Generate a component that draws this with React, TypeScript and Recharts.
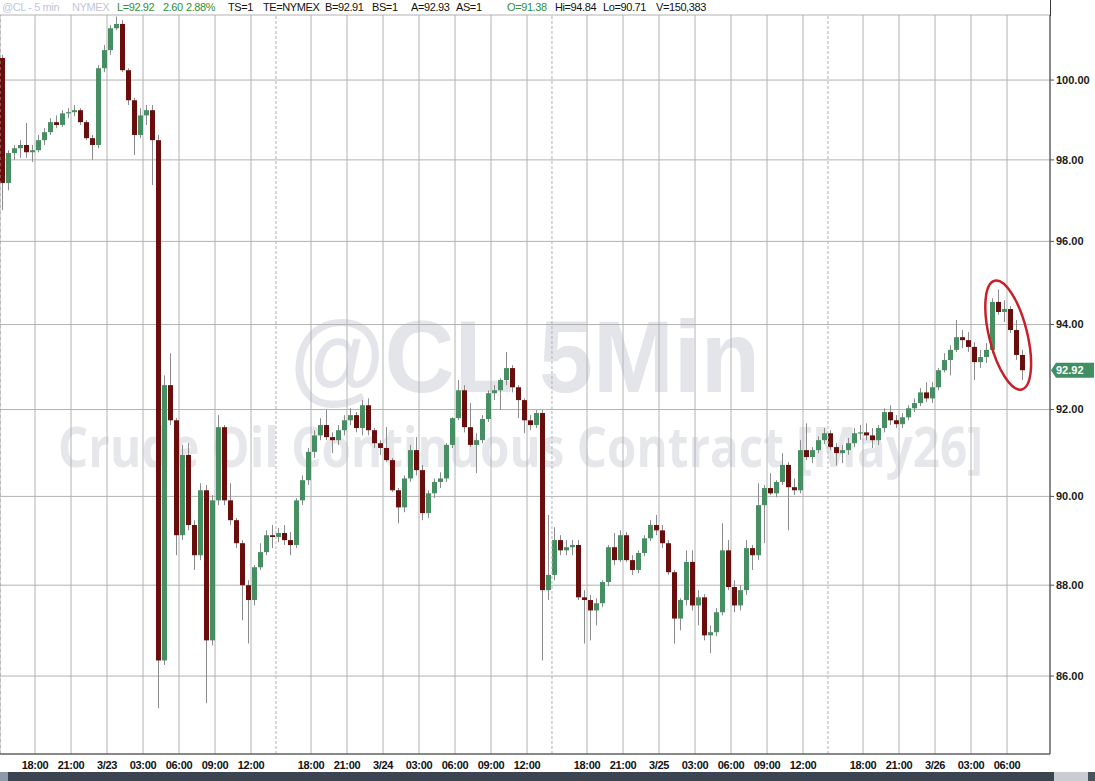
import React from "react";
import {
  ComposedChart,
  Bar,
  XAxis,
  YAxis,
  CartesianGrid,
  ReferenceLine,
  ReferenceDot,
} from "recharts";

// 30-minute candles, first bar starts 3 hours before 18:00 on 3/22 (hours axis, trading time only)
const FIRST_BAR_HOUR = -2.75;
const BAR_HOURS = 0.5;

const opens = [
  100.56, 97.43, 98.17, 98.29, 98.37, 98.19,
  98.24, 98.49, 98.69, 98.94, 98.87, 99.16, 99.19, 99.24, 98.94, 98.54,
  98.37, 100.30, 100.76, 101.32, 101.43, 100.25, 99.49, 98.62, 99.11, 99.24,
  98.49, 86.34, 92.57, 91.75, 89.12, 90.95, 89.35, 88.67, 90.14, 86.78,
  89.91, 91.59, 89.91, 89.46, 88.94, 88.00, 87.67, 88.40, 88.74, 89.12,
  89.08, 89.17, 89.01, 88.90, 89.91, 90.37, 91.02, 91.40, 91.64, 91.36,
  91.29, 91.52, 91.75, 91.87, 91.57, 92.10, 91.52, 91.22, 91.11, 90.83,
  90.14, 89.75, 90.41, 91.06, 90.60, 89.62, 90.07, 90.33, 90.41, 91.18,
  91.80, 92.45, 91.59, 91.18, 91.29, 91.78, 92.38, 92.45, 92.69, 92.97,
  92.52, 92.22, 91.75, 91.64, 91.92, 87.89, 88.23, 89.01, 88.78, 88.85,
  88.90, 87.73, 87.67, 87.44, 87.60, 88.07, 88.85, 88.56, 89.12, 88.56,
  88.34, 88.72, 89.05, 89.35, 89.23, 88.94, 88.29, 87.26, 87.67, 88.52,
  87.55, 87.73, 86.89, 86.96, 87.40, 88.78, 87.96, 87.55, 87.89, 88.83,
  88.67, 89.80, 90.19, 90.07, 90.33, 90.72, 90.21, 90.14, 91.06, 90.90,
  91.06, 91.29, 91.45, 91.13, 90.99, 91.06, 91.22, 91.45, 91.47, 91.40,
  91.29, 91.57, 91.94, 91.75, 91.66, 91.82, 92.03, 92.15, 92.40, 92.26,
  92.52, 92.92, 93.16, 93.40, 93.70, 93.63, 93.47, 93.11, 93.23, 93.40,
  94.54, 94.30, 94.37, 93.87, 93.28,
];

const highs = [
  100.64, 98.24, 98.37, 98.49, 98.92, 98.37,
  98.62, 98.79, 99.04, 99.11, 99.24, 99.29, 99.37, 99.29, 98.99, 98.62,
  100.38, 100.89, 101.40, 101.62, 101.53, 100.30, 99.55, 99.29, 99.37, 99.37,
  98.62, 92.80, 93.32, 91.80, 91.18, 91.22, 89.46, 90.30, 90.26, 90.03,
  91.87, 91.64, 90.30, 89.51, 89.01, 88.11, 88.45, 88.94, 89.23, 89.35,
  89.28, 89.35, 89.19, 89.96, 90.48, 91.11, 91.52, 91.80, 91.99, 91.47,
  91.64, 91.87, 92.03, 91.94, 92.22, 92.26, 91.57, 91.29, 91.59, 90.88,
  90.19, 90.48, 91.18, 91.36, 90.72, 90.14, 90.41, 90.55, 91.22, 91.82,
  92.69, 92.57, 92.15, 91.45, 91.87, 92.45, 92.57, 92.73, 93.35, 93.04,
  92.57, 92.26, 91.87, 91.99, 91.99, 89.58, 89.30, 89.12, 89.01, 89.01,
  89.01, 87.89, 87.78, 87.71, 88.11, 88.90, 89.17, 89.23, 89.19, 88.67,
  88.78, 89.12, 89.46, 89.58, 89.35, 89.01, 88.34, 87.71, 88.78, 88.78,
  87.89, 87.80, 87.11, 87.49, 89.39, 89.01, 88.11, 88.00, 89.01, 88.90,
  90.30, 90.26, 90.53, 90.37, 90.99, 90.79, 90.41, 91.29, 91.68, 91.13,
  91.38, 91.57, 91.52, 91.22, 91.18, 91.34, 91.57, 91.64, 91.68, 91.57,
  91.64, 92.03, 92.10, 91.87, 91.92, 92.10, 92.26, 92.50, 92.64, 92.64,
  92.97, 93.32, 93.51, 94.11, 93.87, 93.82, 93.58, 93.40, 93.56, 94.63,
  94.84, 94.58, 94.44, 94.11, 93.40,
];

const lows = [
  96.76, 97.25, 98.00, 98.05, 98.05, 97.95,
  98.19, 98.37, 98.62, 98.79, 98.82, 99.04, 99.09, 98.87, 98.49, 98.00,
  98.29, 100.20, 100.64, 101.27, 100.20, 99.37, 98.12, 98.54, 98.87, 97.38,
  85.30, 86.24, 91.64, 88.67, 89.01, 89.23, 88.34, 88.56, 85.41, 86.67,
  89.80, 89.80, 89.35, 88.83, 87.22, 86.71, 87.55, 88.34, 88.67, 88.83,
  88.96, 88.90, 88.67, 88.83, 89.80, 90.26, 90.88, 91.29, 91.29, 90.99,
  91.18, 91.40, 91.64, 91.47, 91.40, 91.40, 91.11, 90.95, 90.79, 90.10,
  89.39, 89.64, 90.33, 90.48, 89.46, 89.51, 89.96, 90.19, 90.33, 91.11,
  91.75, 91.47, 91.13, 90.53, 91.22, 91.71, 92.22, 91.99, 92.57, 92.40,
  91.80, 91.45, 91.52, 91.57, 86.34, 87.67, 88.11, 88.67, 88.67, 88.67,
  87.67, 86.71, 86.78, 87.11, 87.51, 87.98, 88.45, 88.52, 88.52, 88.23,
  88.27, 88.65, 88.99, 89.12, 88.83, 88.23, 86.71, 87.00, 87.55, 87.44,
  87.11, 86.78, 86.50, 86.87, 87.33, 87.89, 87.40, 87.44, 87.78, 88.34,
  88.56, 88.94, 90.03, 89.98, 90.26, 89.23, 90.03, 90.07, 90.83, 90.76,
  90.99, 91.20, 91.06, 90.71, 90.76, 90.95, 91.13, 91.29, 91.29, 91.11,
  91.18, 91.47, 91.64, 91.57, 91.57, 91.75, 91.94, 92.08, 92.17, 92.15,
  92.45, 92.87, 92.80, 93.35, 93.44, 93.35, 92.69, 92.97, 93.09, 93.32,
  94.23, 94.06, 93.80, 93.16, 92.69,
];

const closes = [
  97.43, 98.17, 98.29, 98.37, 98.19, 98.24,
  98.49, 98.69, 98.94, 98.87, 99.16, 99.19, 99.24, 98.94, 98.54, 98.37,
  100.30, 100.76, 101.32, 101.43, 100.25, 99.49, 98.62, 99.11, 99.24, 98.49,
  86.34, 92.57, 91.75, 89.12, 90.95, 89.35, 88.67, 90.14, 86.78, 89.91,
  91.59, 89.91, 89.46, 88.94, 88.00, 87.67, 88.40, 88.74, 89.12, 89.08,
  89.17, 89.01, 88.90, 89.91, 90.37, 91.02, 91.40, 91.64, 91.36, 91.29,
  91.52, 91.75, 91.87, 91.57, 92.10, 91.52, 91.22, 91.11, 90.83, 90.14,
  89.75, 90.41, 91.06, 90.60, 89.62, 90.07, 90.33, 90.41, 91.18, 91.80,
  92.45, 91.59, 91.18, 91.29, 91.78, 92.38, 92.45, 92.69, 92.97, 92.52,
  92.22, 91.75, 91.64, 91.92, 87.89, 88.23, 89.01, 88.78, 88.85, 88.90,
  87.73, 87.67, 87.44, 87.60, 88.07, 88.85, 88.56, 89.12, 88.56, 88.34,
  88.72, 89.05, 89.35, 89.23, 88.94, 88.29, 87.26, 87.67, 88.52, 87.55,
  87.73, 86.89, 86.96, 87.40, 88.78, 87.96, 87.55, 87.89, 88.83, 88.67,
  89.80, 90.19, 90.07, 90.33, 90.72, 90.21, 90.14, 91.06, 90.90, 91.06,
  91.29, 91.45, 91.13, 90.99, 91.06, 91.22, 91.45, 91.47, 91.40, 91.29,
  91.57, 91.94, 91.75, 91.66, 91.82, 92.03, 92.15, 92.40, 92.26, 92.52,
  92.92, 93.16, 93.40, 93.70, 93.63, 93.47, 93.11, 93.23, 93.40, 94.54,
  94.30, 94.37, 93.87, 93.28, 92.92,
];

const tickHours = [0, 3, 6, 9, 12, 15, 18, 23, 26, 29, 32, 35, 38, 41, 46, 49, 52, 55, 58, 61, 64, 69, 72, 75, 78, 81];
const tickLabels = [
  "18:00", "21:00", "3/23", "03:00", "06:00", "09:00", "12:00",
  "18:00", "21:00", "3/24", "03:00", "06:00", "09:00", "12:00",
  "18:00", "21:00", "3/25", "03:00", "06:00", "09:00", "12:00",
  "18:00", "21:00", "3/26", "03:00", "06:00",
];
const priceTicks = [86, 88, 90, 92, 94, 96, 98, 100];
const sessionBreaks = [20.08, 43.08, 66.08];
const chartStartHour = -2.9167;
const chartEndHour = 84.5833;
const priceMin = 84.32;
const priceMax = 101.66;
const lastPrice = 92.92;
const highlightCenter = { hour: 81.1, price: 93.75 };

const headerItems = [
  { text: "@CL - 5 min", x: 2, color: "#c3c6d8" },
  { text: "NYMEX", x: 72, color: "#c3c6d8" },
  { text: "L=92.92", x: 117, color: "#2f8f3a" },
  { text: "2.60", x: 163, color: "#2f8f3a" },
  { text: "2.88%", x: 186, color: "#2f8f3a" },
  { text: "TS=1", x: 228, color: "#111" },
  { text: "TE=NYMEX", x: 263, color: "#111" },
  { text: "B=92.91", x: 325, color: "#111" },
  { text: "BS=1", x: 372, color: "#111" },
  { text: "A=92.93", x: 411, color: "#111" },
  { text: "AS=1", x: 456, color: "#111" },
  { text: "O=91.38", x: 507, color: "#2f8f3a" },
  { text: "Hi=94.84", x: 555, color: "#111" },
  { text: "Lo=90.71", x: 603, color: "#111" },
  { text: "V=150,383", x: 656, color: "#111" },
];

const data = opens.map((o, i) => ({
  t: FIRST_BAR_HOUR + i * BAR_HOURS,
  open: o,
  high: highs[i],
  low: lows[i],
  close: closes[i],
  range: [lows[i], highs[i]],
}));

const UP = "#458f63";
const DOWN = "#6a0d0d";
const WICK = "#8c8c8c";
const SANS = "'Liberation Sans', Arial, sans-serif";

const Candle = (props: any) => {
  const { x, y, width, height } = props;
  const p = props.payload || props;
  if (x == null || y == null || !p) return null;
  const top = Math.min(y, y + height);
  const bot = Math.max(y, y + height);
  const lh = Math.log(p.high);
  const ll = Math.log(p.low);
  const toY = (v: number) => (lh === ll ? top : top + ((bot - top) * (lh - Math.log(v))) / (lh - ll));
  const cx = Math.round(x + width / 2) + 0.5;
  const up = p.close >= p.open;
  const yO = toY(p.open);
  const yC = toY(p.close);
  const bTop = Math.min(yO, yC);
  const bH = Math.max(1.2, Math.abs(yO - yC));
  return (
    <g>
      <line x1={cx} x2={cx} y1={top} y2={bot} stroke={WICK} strokeWidth={1} />
      <rect x={cx - 2.5} y={bTop} width={5} height={bH} fill={up ? UP : DOWN} />
    </g>
  );
};

const PriceTag = (props: any) => {
  const vb = props.viewBox || {};
  const x0 = (vb.x || 0) + (vb.width || 0);
  const y0 = vb.y || 0;
  return (
    <g>
      <polygon
        points={`${x0 + 1},${y0} ${x0 + 6},${y0 - 7.5} ${x0 + 44},${y0 - 7.5} ${x0 + 44},${y0 + 7.5} ${x0 + 6},${y0 + 7.5}`}
        fill="#3f8f62"
      />
      <text x={x0 + 6} y={y0 + 4} fill="#fff" fontSize={11} fontWeight="bold" fontFamily={SANS}>
        {lastPrice.toFixed(2)}
      </text>
    </g>
  );
};

const HighlightEllipse = (props: any) => {
  const { cx, cy } = props;
  if (cx == null || cy == null) return null;
  return (
    <ellipse
      cx={cx}
      cy={cy}
      rx={19}
      ry={56}
      transform={`rotate(-14 ${cx} ${cy})`}
      fill="none"
      stroke="#c8202a"
      strokeWidth={2.5}
    />
  );
};

export default function App() {
  return (
    <div style={{ position: "absolute", left: 0, top: 0, width: 1095, height: 781, background: "#fff", overflow: "hidden" }}>
      {/* watermark */}
      <svg width={1095} height={781} style={{ position: "absolute", left: 0, top: 0 }}>
        <text x={290} y={392} fontSize={102} fontWeight="bold" fill="#e4e5ea" fontFamily={SANS} textLength={470} lengthAdjust="spacingAndGlyphs">
          @CL 5Min
        </text>
        <text x={58} y={467} fontSize={56} fontWeight="bold" fill="#e6e7eb" fontFamily="'Open Sans', 'Liberation Sans', sans-serif" textLength={925} lengthAdjust="spacingAndGlyphs">
          Crude Oil Continuous Contract [May26]
        </text>
      </svg>
      <div style={{ position: "absolute", left: 0, top: 0 }}>
        <ComposedChart width={1095} height={781} data={data} margin={{ top: 15, right: 0, bottom: 0, left: 0 }}>
          <CartesianGrid stroke="#b2b2b2" strokeWidth={1} />
          <XAxis
            type="number"
            dataKey="t"
            domain={[chartStartHour, chartEndHour]}
            allowDataOverflow
            ticks={tickHours}
            interval={0}
            tickFormatter={(v: number) => tickLabels[tickHours.indexOf(v)] ?? ""}
            axisLine={{ stroke: "#3a3a3a" }}
            tickLine={false}
            tickSize={0}
            tickMargin={7}
            height={27}
            tick={{ fontSize: 11, fill: "#111", fontFamily: SANS, fontWeight: "bold", letterSpacing: -0.3 }}
          />
          <YAxis
            orientation="right"
            scale="log"
            domain={[priceMin, priceMax]}
            allowDataOverflow
            ticks={priceTicks}
            interval={0}
            width={45}
            tickFormatter={(v: number) => v.toFixed(2)}
            axisLine={{ stroke: "#3a3a3a" }}
            tickLine={{ stroke: "#555" }}
            tickSize={4}
            tickMargin={2}
            tick={{ fontSize: 11, fill: "#1a1a1a", fontFamily: SANS, fontWeight: "bold" }}
          />
          <ReferenceLine x={chartStartHour} stroke="#9a9a9a" strokeDasharray="3 3" ifOverflow="visible" />
          {sessionBreaks.map((h) => (
            <ReferenceLine key={h} x={h} stroke="#b2b2b2" strokeDasharray="3 2" />
          ))}
          <Bar dataKey="range" barSize={6} shape={<Candle />} isAnimationActive={false} />
          <ReferenceLine y={lastPrice} stroke="none" ifOverflow="visible" label={(p: any) => <PriceTag {...p} />} />
          <ReferenceDot
            x={highlightCenter.hour}
            y={highlightCenter.price}
            r={0}
            ifOverflow="visible"
            shape={(p: any) => <HighlightEllipse {...p} />}
          />
        </ComposedChart>
      </div>
      {/* header */}
      <div style={{ position: "absolute", left: 0, top: 0, width: 1050, height: 15, fontFamily: SANS, fontSize: 11, lineHeight: "15px", letterSpacing: -0.4 }}>
        {headerItems.map((h, i) => (
          <span key={i} style={{ position: "absolute", left: h.x, top: 0, color: h.color, whiteSpace: "nowrap" }}>
            {h.text}
          </span>
        ))}
      </div>
      <div style={{ position: "absolute", left: 1050, top: 0, width: 1, height: 16, background: "#3a3a3a" }} />
      {/* scrollbar */}
      <div style={{ position: "absolute", left: 0, top: 772, width: 8, height: 9, background: "#8d9aab" }} />
      <div style={{ position: "absolute", left: 8, top: 772, width: 1046, height: 9, background: "#3b4450" }} />
      <div style={{ position: "absolute", left: 1054, top: 772, width: 34, height: 9, background: "#c9cdd3" }} />
      <div style={{ position: "absolute", left: 1088, top: 772, width: 7, height: 9, background: "#4a525c" }} />
    </div>
  );
}
